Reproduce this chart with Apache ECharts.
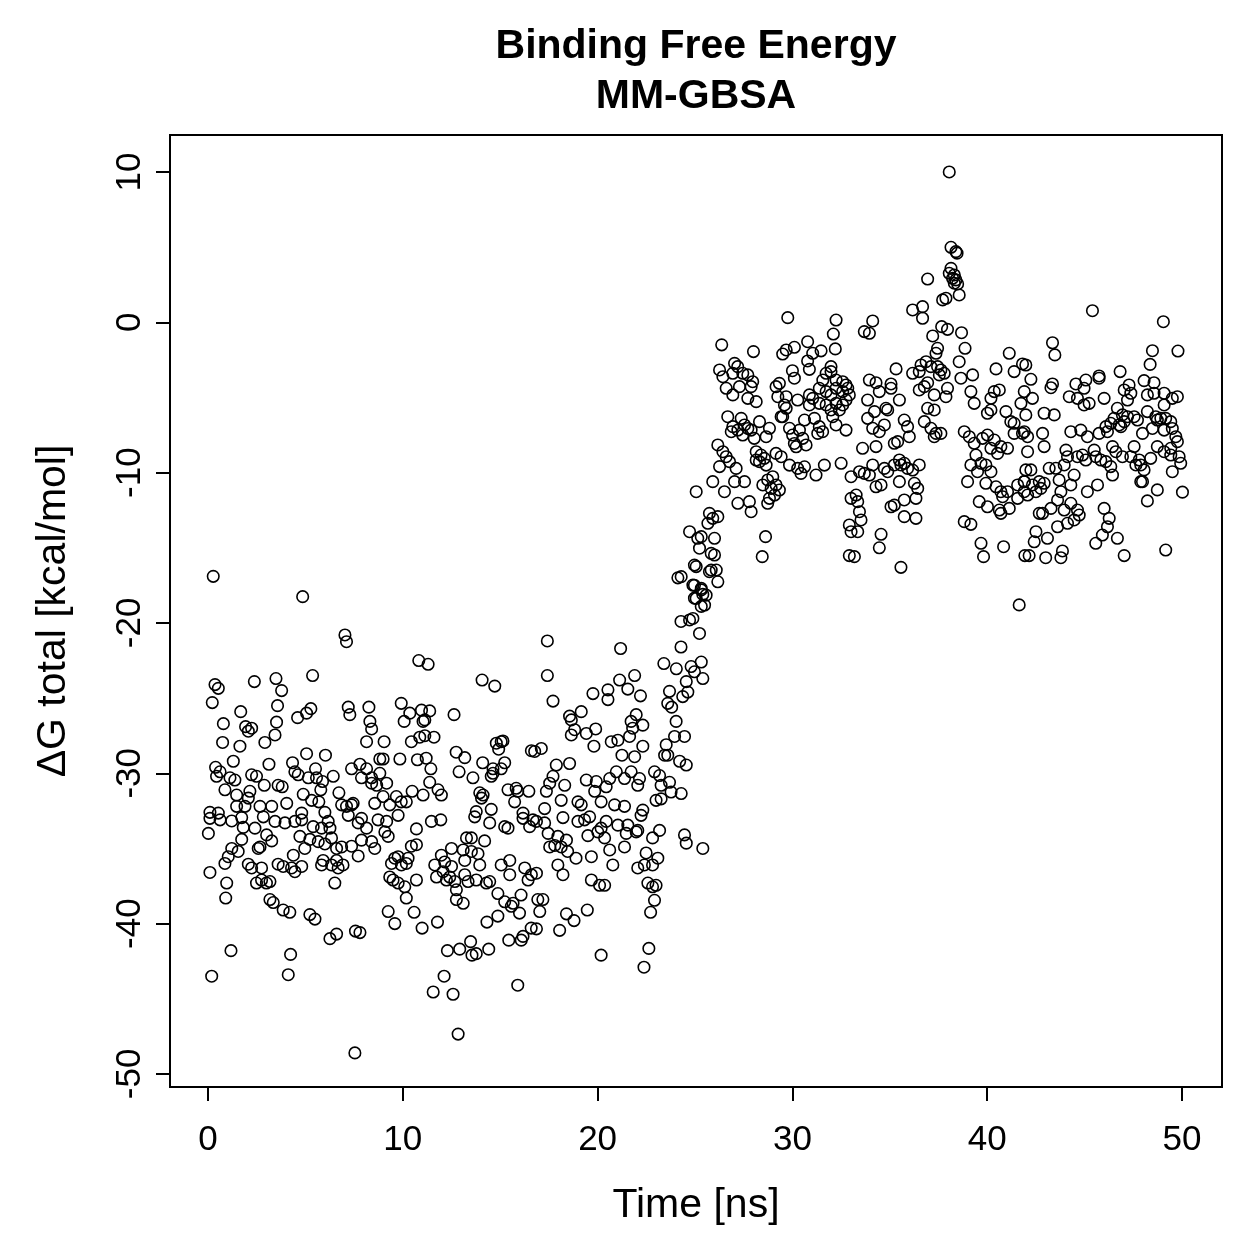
<!DOCTYPE html>
<html>
<head>
<meta charset="utf-8">
<title>Binding Free Energy MM-GBSA</title>
<script src="https://cdn.jsdelivr.net/npm/echarts@6/dist/echarts.min.js"></script>
<style>
html, body { margin: 0; padding: 0; background: #fff; }
#main { width: 1259px; height: 1259px; }
</style>
</head>
<body>
<div id="main"></div>
<script>
// tick positions
var xTicks = [0, 10, 20, 30, 40, 50];
var yTicks = [-50, -40, -30, -20, -10, 0, 10];

// [time ns, dG kcal/mol], in time blocks
var pts0to8 = [
  [0.27,-16.9],[4.86,-18.25],[7.03,-20.8],[7.11,-21.25],[0.36,-24.1],[0.53,-24.35],[2.38,-23.9],[3.49,-23.7],[3.78,-24.5],[5.37,-23.5],
  [0.22,-25.3],[1.68,-25.9],[3.57,-25.5],[3.52,-26.6],[4.6,-26.3],[5.06,-26.0],[5.28,-25.7],[7.2,-25.6],[7.28,-26.1],[0.79,-26.7],
  [1.93,-26.9],[2.24,-27.0],[2.07,-27.2],[3.44,-27.45],[2.92,-27.95],[0.75,-27.95],[1.64,-28.2],[5.06,-28.7],[6.03,-28.8],[1.3,-29.2],
  [3.13,-29.4],[4.34,-29.3],[0.39,-29.6],[0.62,-29.9],[0.44,-30.2],[1.13,-30.3],[1.38,-30.45],[2.24,-30.1],[2.49,-30.2],[4.46,-29.9],
  [4.63,-30.1],[5.52,-29.7],[5.57,-30.3],[5.88,-30.55],[6.43,-30.2],[5.15,-30.3],[0.87,-31.1],[1.47,-31.45],[2.15,-31.2],[2.07,-31.65],
  [2.89,-30.8],[3.6,-30.8],[3.81,-30.9],[4.89,-31.4],[5.32,-31.8],[5.69,-31.9],[5.79,-31.1],[6.72,-31.3],[7.88,-30.3],[7.37,-29.7],
  [7.8,-29.4],[6.86,-32.1],[7.37,-32.1],[0.1,-32.6],[0.53,-32.65],[1.47,-32.2],[1.9,-32.2],[2.67,-32.2],[3.27,-32.2],[4.04,-32.0],
  [4.81,-32.65],[6.0,-32.6],[7.11,-32.2],[7.45,-32.0],[0.1,-33.0],[0.62,-33.1],[1.22,-33.17],[1.73,-32.95],[2.84,-32.9],[3.44,-33.2],
  [3.95,-33.3],[4.46,-33.2],[4.81,-33.1],[5.4,-33.55],[5.83,-33.65],[6.17,-33.2],[6.26,-33.65],[7.2,-32.8],[7.71,-33.3],[7.88,-33.0],
  [0.02,-34.0],[1.81,-33.6],[2.41,-33.65],[3.01,-34.1],[3.27,-34.5],[1.73,-34.4],[2.58,-35.0],[2.67,-34.9],[1.22,-35.0],[1.55,-35.2],
  [1.04,-35.55],[0.87,-36.0],[4.72,-34.2],[4.97,-35.0],[5.23,-34.4],[5.66,-34.55],[6.0,-34.7],[6.34,-34.3],[6.6,-35.0],[6.86,-34.9],
  [7.37,-34.85],[7.71,-35.5],[7.88,-34.45],[4.38,-35.45],[2.07,-36.05],[2.24,-36.3],[2.75,-36.3],[3.6,-36.05],[3.86,-36.2],[4.29,-36.3],
  [4.46,-36.55],[4.81,-36.2],[5.83,-36.1],[5.91,-35.8],[6.34,-36.1],[6.68,-36.3],[6.93,-36.1],[6.6,-35.8],[0.1,-36.6],[0.96,-37.3],
  [0.91,-38.3],[2.49,-37.3],[2.75,-37.1],[3.0,-37.3],[3.18,-37.2],[6.51,-37.3],[3.18,-38.4],[3.35,-38.6],[3.86,-39.1],[4.2,-39.25],
  [5.23,-39.4],[5.49,-39.7],[6.26,-41.0],[6.6,-40.7],[7.57,-40.5],[7.8,-40.6],[1.18,-41.8],[4.24,-42.05],[0.19,-43.5],[4.12,-43.4],
  [7.54,-48.6]
];

var pts8to17 = [
  [10.82,-22.5],[11.3,-22.75],[14.07,-23.8],[14.72,-24.2],[8.26,-25.6],[9.92,-25.35],[10.36,-26.0],[10.07,-26.55],[10.96,-25.8],[11.38,-25.85],
  [11.13,-26.45],[11.04,-26.55],[12.63,-26.1],[8.31,-26.55],[8.4,-27.05],[9.04,-27.9],[8.14,-27.9],[10.44,-27.9],[10.87,-27.6],[11.13,-27.5],
  [11.6,-27.6],[14.8,-28.0],[15.05,-27.9],[14.92,-28.4],[15.14,-27.85],[16.6,-28.5],[12.74,-28.6],[13.18,-28.96],[8.82,-29.05],[8.99,-29.05],
  [9.85,-29.05],[10.75,-29.1],[11.2,-29.0],[11.44,-29.7],[14.1,-29.3],[14.63,-29.7],[15.23,-29.3],[15.05,-29.7],[14.54,-30.2],[14.63,-30.0],
  [12.89,-29.9],[13.6,-30.3],[8.14,-29.7],[8.4,-30.3],[8.82,-30.0],[9.17,-30.66],[8.66,-30.8],[8.4,-30.66],[11.38,-30.6],[10.48,-31.2],
  [11.04,-31.45],[11.81,-31.1],[11.98,-31.45],[13.95,-31.3],[14.12,-31.45],[14.04,-31.65],[15.4,-31.1],[15.82,-31.0],[15.9,-31.2],[16.47,-31.2],
  [15.74,-31.9],[8.56,-32.0],[8.99,-31.55],[9.33,-32.1],[9.67,-31.55],[9.92,-31.9],[10.18,-31.9],[13.77,-32.55],[14.54,-32.4],[16.17,-32.65],
  [8.14,-33.65],[8.73,-33.1],[9.17,-33.2],[9.76,-32.8],[10.7,-33.7],[11.47,-33.2],[11.95,-33.1],[13.69,-32.9],[14.46,-33.3],[15.23,-33.55],
  [15.4,-33.65],[16.17,-33.0],[16.51,-33.55],[16.68,-33.1],[9.08,-33.9],[9.25,-34.2],[8.4,-34.55],[8.56,-35.0],[10.7,-34.75],[10.44,-34.85],
  [10.27,-35.65],[9.59,-35.65],[9.42,-36.0],[9.76,-35.55],[9.93,-36.1],[10.18,-36.0],[13.27,-34.3],[13.52,-34.3],[14.2,-34.5],[12.5,-35.0],
  [11.98,-35.45],[11.64,-36.1],[12.15,-35.9],[12.5,-36.2],[13.1,-35.1],[13.52,-35.2],[13.86,-35.35],[13.95,-36.1],[13.18,-35.8],[11.73,-36.9],
  [12.07,-36.55],[12.24,-37.1],[12.41,-36.9],[12.67,-37.2],[13.18,-36.75],[13.35,-37.2],[13.77,-37.1],[14.29,-37.3],[14.46,-37.2],[15.05,-36.1],
  [15.49,-35.8],[15.49,-36.75],[16.26,-36.3],[16.43,-37.1],[16.6,-36.75],[9.33,-36.9],[9.5,-37.1],[9.76,-37.3],[10.1,-37.55],[10.18,-38.3],
  [10.7,-37.1],[12.75,-37.75],[12.75,-38.4],[13.1,-38.65],[14.88,-38.0],[15.23,-38.55],[15.66,-38.65],[16.07,-38.1],[15.99,-39.3],[15.57,-38.85],
  [9.25,-39.2],[9.59,-40.0],[10.58,-39.25],[10.99,-40.3],[11.78,-39.9],[14.32,-39.9],[14.88,-39.5],[15.44,-41.1],[16.17,-40.85],[16.08,-41.1],
  [16.59,-40.3],[12.29,-41.8],[12.92,-41.7],[13.48,-41.2],[13.55,-42.1],[13.77,-42.0],[14.41,-41.7],[12.12,-43.5],[11.56,-44.55],[12.58,-44.7],
  [15.9,-44.1],[12.84,-47.35]
];

var pts17to26 = [
  [25.06,-16.25],[24.12,-17.0],[24.97,-17.5],[25.32,-17.8],[25.4,-18.1],[24.97,-18.35],[25.32,-18.9],[24.28,-19.9],[24.72,-19.8],[24.89,-19.7],
  [25.23,-20.7],[17.42,-21.2],[21.18,-21.7],[24.28,-21.6],[23.4,-22.7],[24.04,-23.05],[24.8,-22.9],[25.32,-22.6],[24.97,-23.25],[25.4,-23.7],
  [24.55,-23.9],[17.42,-23.5],[21.13,-23.8],[21.9,-23.5],[21.55,-24.4],[22.2,-24.85],[20.53,-24.45],[20.53,-25.1],[19.76,-24.7],[17.71,-25.2],
  [23.69,-24.55],[24.37,-24.9],[24.63,-24.6],[23.6,-25.35],[23.8,-25.6],[19.16,-25.9],[18.56,-26.2],[18.65,-26.45],[18.82,-27.1],[18.65,-27.45],
  [19.42,-27.35],[19.9,-27.05],[21.98,-26.1],[21.72,-26.55],[21.8,-27.0],[22.32,-26.8],[21.64,-27.55],[21.04,-27.8],[20.7,-27.9],[19.81,-28.2],
  [24.03,-26.55],[23.95,-27.55],[24.46,-27.55],[23.52,-28.1],[23.44,-28.8],[23.6,-28.8],[24.21,-29.2],[24.55,-29.45],[17.11,-28.35],[16.77,-28.55],
  [22.32,-28.2],[21.25,-28.8],[21.9,-28.9],[17.88,-29.45],[18.56,-29.35],[17.71,-30.2],[17.54,-30.66],[18.31,-30.8],[17.37,-31.2],[19.42,-30.45],
  [19.93,-30.55],[19.85,-31.2],[20.44,-30.9],[20.62,-30.35],[20.96,-29.9],[21.38,-30.35],[21.72,-29.9],[22.15,-30.35],[22.06,-30.8],[22.92,-29.9],
  [23.18,-30.15],[23.26,-30.8],[23.69,-30.6],[23.77,-31.25],[24.29,-31.35],[23.26,-31.7],[23.0,-31.8],[18.99,-31.9],[19.16,-32.1],[20.18,-31.9],
  [20.87,-32.1],[21.38,-32.2],[22.32,-32.45],[18.13,-31.8],[17.28,-32.35],[18.22,-32.95],[18.99,-33.2],[19.33,-33.1],[19.59,-32.9],[20.44,-33.2],
  [21.04,-33.45],[21.55,-33.45],[22.06,-33.8],[22.23,-32.8],[23.18,-33.8],[22.82,-34.3],[16.86,-33.2],[17.28,-33.3],[17.46,-34.0],[17.96,-34.2],
  [18.4,-34.45],[17.54,-34.9],[17.8,-34.8],[18.13,-34.9],[18.46,-35.2],[18.89,-35.65],[17.96,-36.1],[18.22,-36.75],[19.5,-34.15],[20.01,-33.9],
  [20.18,-33.65],[20.36,-34.3],[20.62,-35.1],[20.78,-36.1],[21.38,-34.9],[21.47,-34.0],[21.98,-33.9],[19.68,-35.55],[22.49,-35.3],[22.4,-36.1],
  [22.06,-36.3],[22.82,-36.1],[23.09,-35.65],[24.46,-34.1],[24.55,-34.65],[25.4,-35.0],[16.86,-36.65],[19.68,-37.1],[20.1,-37.45],[20.36,-37.45],
  [22.58,-37.3],[22.82,-37.55],[23.0,-37.45],[22.92,-38.45],[22.72,-39.25],[16.93,-38.4],[17.19,-38.4],[17.03,-39.2],[18.4,-39.35],[18.79,-39.8],
  [19.47,-39.1],[18.05,-40.45],[16.86,-40.35],[20.18,-42.1],[22.63,-41.65],[22.38,-42.9]
];

var pts26to33 = [
  [29.76,0.31],[32.24,0.15],[32.1,-0.78],[32.2,-1.77],[26.37,-1.5],[28.0,-1.95],[29.68,-1.84],[30.1,-1.66],[30.78,-1.29],[31.47,-1.9],
  [31.04,-2.06],[30.78,-2.57],[30.87,-3.13],[30.0,-3.22],[30.1,-3.72],[29.5,-2.11],[31.98,-2.95],[31.73,-3.39],[32.24,-3.84],[31.56,-3.84],
  [31.98,-3.28],[26.26,-3.17],[26.43,-3.62],[27.03,-2.73],[27.19,-2.95],[26.94,-3.39],[27.45,-3.39],[27.71,-3.5],[27.96,-3.95],[29.33,-4.06],
  [32.58,-3.95],[32.75,-4.17],[26.6,-4.39],[26.94,-4.83],[27.28,-4.28],[27.88,-4.28],[27.71,-5.06],[28.14,-5.28],[29.16,-4.28],[29.25,-4.95],
  [29.68,-4.95],[29.59,-5.5],[29.68,-5.72],[29.5,-6.28],[30.27,-5.17],[30.87,-4.83],[31.04,-5.06],[31.38,-4.39],[31.73,-4.61],[31.98,-4.83],
  [32.24,-4.39],[32.58,-4.61],[32.92,-4.83],[32.84,-4.39],[30.87,-5.5],[31.38,-5.39],[31.73,-5.5],[32.24,-5.39],[32.41,-5.83],[31.98,-5.83],
  [32.58,-5.5],[32.75,-5.17],[26.68,-6.28],[26.94,-6.94],[26.86,-7.28],[27.37,-6.39],[27.54,-6.83],[27.71,-7.06],[27.88,-7.17],[27.2,-7.17],
  [27.45,-7.5],[28.31,-6.61],[28.82,-7.05],[28.65,-7.61],[28.04,-7.72],[29.42,-6.28],[29.85,-7.05],[30.01,-7.5],[30.36,-7.17],[30.62,-6.5],
  [31.13,-6.39],[31.38,-6.94],[31.55,-7.28],[31.3,-7.39],[32.07,-6.28],[32.24,-6.83],[32.75,-7.17],[30.1,-8.06],[30.53,-7.72],[30.19,-8.28],
  [30.7,-8.16],[26.17,-8.16],[26.43,-8.61],[26.6,-8.94],[26.77,-9.27],[27.11,-9.72],[26.26,-9.6],[25.91,-10.6],[26.51,-11.27],[25.06,-11.27],
  [27.03,-10.6],[27.54,-10.6],[28.14,-8.61],[28.39,-8.83],[28.31,-9.27],[28.56,-9.05],[28.65,-9.5],[28.14,-9.16],[29.16,-8.72],[29.42,-8.94],
  [29.85,-9.5],[30.27,-9.72],[30.44,-10.05],[30.62,-9.61],[31.21,-10.16],[31.64,-9.5],[32.5,-9.38],[28.73,-10.49],[28.99,-10.27],[29.16,-10.82],
  [28.91,-11.05],[29.33,-11.16],[29.08,-11.49],[28.48,-10.82],[28.73,-12.04],[28.82,-11.71],[27.2,-12.04],[27.79,-11.93],[27.88,-12.6],[28.62,-14.26],
  [28.45,-15.59],[25.74,-12.71],[25.91,-13.04],[26.17,-12.93],[25.66,-13.37],[24.72,-13.93],[25.14,-14.37],[25.32,-14.26],[25.23,-15.03],[26.0,-14.37],
  [25.83,-15.37],[26.0,-15.48],[24.97,-16.15],[25.83,-16.48],[26.09,-16.48],[26.17,-17.26],[25.74,-16.59],[24.89,-17.48],[25.32,-17.7],[25.57,-18.15],
  [25.06,-18.37],[25.49,-18.81],[24.29,-16.92],[33.01,-10.27],[33.01,-11.71],[32.92,-13.48],[33.01,-13.93],[32.92,-15.52]
];

var pts33to42 = [
  [38.05,10.0],[38.14,4.99],[38.39,4.7],[38.45,4.6],[38.14,3.59],[38.05,3.26],[38.31,3.15],[38.22,2.93],[38.39,2.82],[38.48,2.55],
  [38.31,2.6],[38.56,1.82],[37.88,1.6],[37.71,1.49],[36.94,2.88],[36.17,0.82],[36.68,1.04],[36.68,0.27],[34.12,0.09],[33.69,-0.62],
  [33.95,-0.73],[37.66,-0.29],[37.96,-0.47],[37.2,-0.91],[38.68,-0.69],[37.45,-1.73],[37.37,-2.06],[38.86,-1.73],[38.56,-2.62],[35.32,-3.1],
  [36.6,-2.84],[36.86,-2.62],[37.11,-2.95],[37.45,-2.95],[37.62,-3.17],[37.79,-3.39],[36.51,-3.28],[36.17,-3.39],[37.54,-3.5],[41.13,-2.06],
  [41.81,-2.77],[41.38,-3.28],[40.45,-3.1],[39.25,-3.5],[38.65,-3.72],[33.95,-3.84],[34.29,-4.02],[35.06,-4.1],[36.94,-4.02],[33.86,-5.17],
  [34.46,-4.61],[35.06,-4.39],[35.49,-5.17],[34.21,-5.94],[34.8,-5.72],[34.89,-5.83],[33.86,-6.39],[34.12,-7.05],[34.46,-7.28],[34.72,-6.83],
  [35.74,-6.5],[35.91,-6.94],[36.0,-7.61],[35.4,-7.94],[35.23,-8.05],[36.51,-4.5],[36.77,-4.28],[37.28,-4.83],[37.88,-4.95],[37.96,-4.39],
  [36.94,-5.72],[37.28,-5.83],[36.77,-6.61],[37.11,-7.05],[37.37,-7.39],[37.62,-7.39],[37.28,-7.61],[33.6,-8.38],[34.29,-8.27],[35.23,-9.49],
  [35.49,-9.16],[35.57,-9.49],[35.74,-9.38],[35.91,-9.72],[36.17,-9.83],[36.51,-9.49],[34.12,-9.49],[33.44,-9.94],[33.69,-10.05],[33.95,-10.16],
  [34.72,-9.72],[34.89,-9.94],[34.55,-10.82],[34.29,-10.94],[35.49,-10.6],[36.26,-10.71],[36.43,-11.05],[36.34,-11.71],[35.74,-11.82],[35.23,-12.16],
  [35.06,-12.27],[35.74,-12.93],[36.34,-13.04],[33.27,-11.49],[33.35,-11.93],[33.44,-12.6],[33.52,-13.15],[33.35,-13.93],[33.18,-15.59],[34.55,-14.1],
  [34.46,-15.0],[35.57,-16.3],[38.82,-7.28],[39.08,-7.61],[39.33,-8.05],[39.76,-7.72],[40.01,-7.5],[40.36,-7.83],[40.7,-8.27],[41.04,-8.38],
  [40.19,-8.38],[40.53,-8.72],[39.42,-8.83],[39.16,-9.49],[39.68,-9.38],[39.93,-9.49],[39.5,-9.94],[40.19,-9.94],[38.99,-10.6],[39.93,-10.71],
  [40.45,-10.94],[40.7,-11.27],[41.04,-11.27],[40.79,-11.6],[41.56,-10.82],[41.9,-10.6],[41.56,-11.71],[41.9,-11.27],[39.59,-11.93],[40.01,-12.27],
  [40.62,-12.49],[40.7,-12.71],[41.13,-12.38],[38.82,-13.26],[39.16,-13.44],[39.68,-14.7],[39.81,-15.59],[40.84,-14.93],[41.93,-15.52],[41.64,-18.8],
  [39.16,-4.61],[39.33,-5.39],[40.19,-5.06],[40.36,-4.61],[40.62,-4.5],[40.01,-6.05],[40.19,-5.83],[40.96,-5.94],[41.21,-6.61],[41.38,-6.72],
  [41.73,-5.39],[41.9,-4.61],[41.81,-7.39],[41.38,-7.39]
];

var pts42to50 = [
  [45.4,0.77],[49.04,0.04],[43.35,-1.36],[43.47,-2.17],[48.48,-1.89],[48.36,-2.8],[49.79,-1.91],[41.98,-2.84],[42.24,-3.79],[43.35,-4.1],
  [44.55,-4.1],[45.06,-3.84],[45.74,-3.57],[45.74,-3.72],[46.82,-3.28],[47.28,-4.17],[48.05,-3.88],[48.56,-4.02],[42.32,-5.06],[43.27,-4.35],
  [44.21,-4.95],[44.63,-5.06],[44.97,-4.39],[45.23,-5.39],[44.97,-5.5],[46.0,-5.06],[47.03,-4.5],[47.37,-4.72],[47.2,-5.17],[48.22,-4.83],
  [48.56,-4.72],[49.08,-4.72],[49.5,-5.06],[49.76,-4.95],[41.98,-6.16],[42.92,-6.05],[43.44,-6.16],[46.68,-5.72],[46.94,-6.16],[47.2,-6.28],
  [46.51,-6.39],[46.34,-6.72],[46.09,-6.94],[46.77,-6.83],[47.03,-6.61],[47.54,-6.28],[47.71,-6.5],[48.22,-5.94],[48.65,-6.28],[48.73,-6.5],
  [48.91,-6.39],[49.16,-6.39],[49.42,-6.61],[49.08,-5.5],[41.9,-7.28],[42.07,-7.61],[42.84,-7.39],[42.92,-8.27],[44.29,-7.28],[44.8,-7.17],
  [45.14,-7.61],[45.74,-7.39],[46.17,-7.28],[46.86,-6.94],[47.97,-7.39],[48.48,-7.06],[49.08,-7.17],[49.5,-7.06],[49.68,-7.61],[49.76,-7.94],
  [49.42,-8.38],[42.07,-8.61],[41.98,-9.82],[42.24,-9.82],[43.18,-9.71],[43.52,-9.71],[44.04,-8.5],[44.12,-8.94],[43.95,-9.49],[44.63,-8.94],
  [44.89,-8.83],[45.06,-9.16],[45.49,-8.5],[45.57,-8.94],[45.83,-9.16],[46.09,-9.27],[46.43,-8.27],[46.6,-8.61],[46.34,-9.6],[46.43,-10.16],
  [46.94,-8.94],[47.37,-8.94],[47.54,-8.27],[47.8,-9.16],[47.88,-9.49],[48.05,-9.82],[48.39,-9.05],[48.73,-8.27],[49.08,-8.61],[49.42,-8.83],
  [49.85,-8.94],[49.93,-9.38],[49.5,-9.94],[47.97,-10.6],[47.63,-9.49],[41.9,-10.6],[42.32,-10.82],[42.67,-10.6],[42.92,-10.71],[43.69,-10.49],
  [44.29,-10.82],[44.46,-10.16],[45.14,-11.27],[45.66,-10.82],[42.07,-11.49],[42.5,-11.27],[42.75,-11.05],[43.78,-11.27],[43.61,-11.82],[43.27,-12.38],
  [42.67,-12.71],[42.84,-12.71],[43.95,-12.49],[44.29,-12.04],[44.63,-12.49],[44.72,-12.82],[44.46,-13.15],[44.12,-13.37],[43.61,-13.6],[47.88,-10.6],
  [48.73,-11.15],[48.22,-11.88],[50.02,-11.3],[46.0,-12.38],[46.26,-13.04],[46.17,-13.6],[45.91,-14.15],[45.57,-14.7],[46.68,-14.37],[47.03,-15.52],
  [49.16,-15.15],[42.5,-13.93],[42.41,-14.6],[43.09,-14.37],[42.15,-15.52],[43.0,-15.66],[43.78,-15.66],[43.86,-15.21]
];

var allPts = [].concat(pts0to8, pts8to17, pts17to26, pts26to33, pts33to42, pts42to50);

var FONT = 'Liberation Sans, Arial, Helvetica, sans-serif';
var chart = echarts.init(document.getElementById('main'));

var option = {
    backgroundColor: '#fff',
    animation: false,
    title: {
        text: 'Binding Free Energy\nMM-GBSA',
        left: 696,
        top: 22,
        textAlign: 'center',
        padding: 0,
        textStyle: {
            fontFamily: FONT,
            fontWeight: 'bold',
            fontSize: 41,
            lineHeight: 50,
            color: '#000'
        }
    },
    grid: {
        left: 170,
        right: 37,
        top: 135,
        bottom: 172,
        show: true,
        borderColor: '#000',
        borderWidth: 2,
        backgroundColor: 'transparent'
    },
    xAxis: {
        type: 'value',
        min: -1.95,
        max: 52.05,
        axisLine: { show: false, onZero: false },
        splitLine: { show: false },
        axisTick: {
            show: true,
            inside: false,
            length: 14,
            customValues: xTicks,
            lineStyle: { color: '#000', width: 2 }
        },
        axisLabel: {
            customValues: xTicks,
            fontFamily: FONT,
            fontSize: 35,
            color: '#000',
            margin: 36
        },
        name: 'Time [ns]',
        nameLocation: 'middle',
        nameGap: 98,
        nameTextStyle: { fontFamily: FONT, fontSize: 41, color: '#000' }
    },
    yAxis: {
        type: 'value',
        min: -50.87,
        max: 12.46,
        axisLine: { show: false, onZero: false },
        splitLine: { show: false },
        axisTick: {
            show: true,
            inside: false,
            length: 14,
            customValues: yTicks,
            lineStyle: { color: '#000', width: 2 }
        },
        axisLabel: {
            customValues: yTicks,
            rotate: 90,
            fontFamily: FONT,
            fontSize: 35,
            color: '#000',
            margin: 22
        },
        name: 'ΔG total [kcal/mol]',
        nameLocation: 'middle',
        nameRotate: 90,
        nameGap: 96,
        nameTextStyle: { fontFamily: FONT, fontSize: 41, color: '#000' }
    },
    series: [{
        type: 'scatter',
        data: allPts,
        symbol: 'circle',
        symbolSize: 11.5,
        silent: true,
        itemStyle: {
            color: 'rgba(0,0,0,0)',
            borderColor: '#000',
            borderWidth: 1.6,
            opacity: 1
        }
    }]
};

chart.setOption(option);
</script>
</body>
</html>
